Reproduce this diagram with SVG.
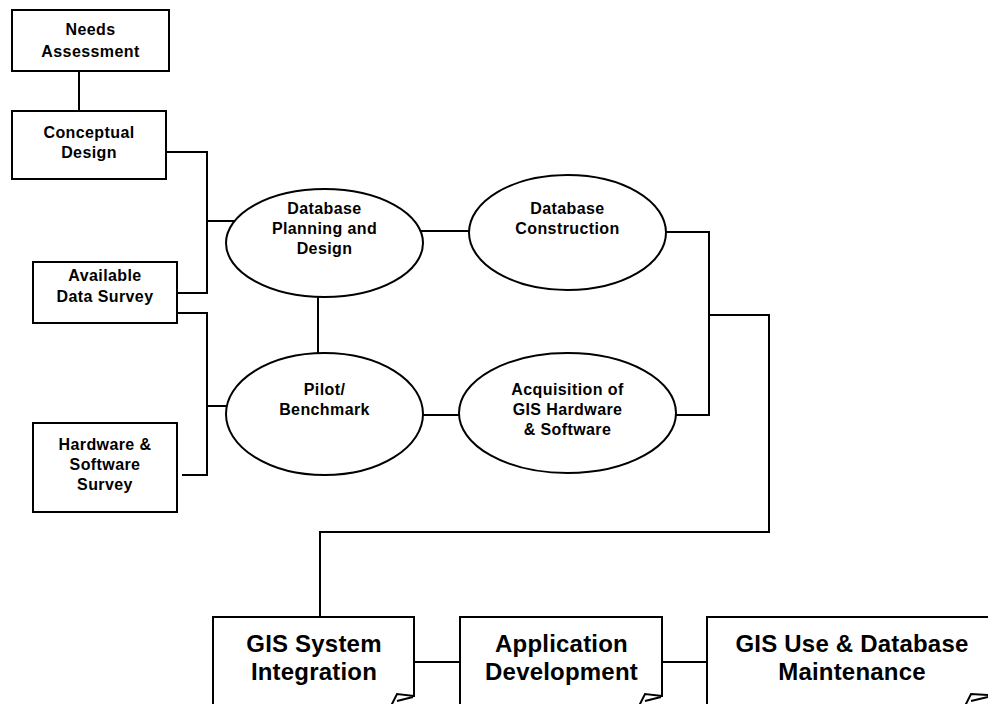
<svg xmlns="http://www.w3.org/2000/svg" width="988" height="704" viewBox="0 0 988 704">
<style>
  .ln { fill: none; stroke: #000; stroke-width: 2; }
  .bx { fill: #fff; stroke: #000; stroke-width: 2; }
  .t { font-family: "Liberation Sans", Arial, sans-serif; font-weight: bold; font-size: 16px; letter-spacing: 0.4px; text-anchor: middle; fill: #000; }
  .T { font-family: "Liberation Sans", Arial, sans-serif; font-weight: bold; font-size: 24px; letter-spacing: 0.2px; text-anchor: middle; fill: #000; }
</style>
<rect width="988" height="704" fill="#fff"/>
<g id="connectors" class="ln">
  <path d="M79,71 V111"/>
  <path d="M166,152 H207 V293 H177"/>
  <path d="M207,221 H240"/>
  <path d="M177,313 H207 V475 H182"/>
  <path d="M207,406 H240"/>
  <path d="M410,231 H480"/>
  <path d="M318,280 V360"/>
  <path d="M410,415 H470"/>
  <path d="M655,232 H709 V415 H665"/>
  <path d="M709,315 H769 V532 H320 V617"/>
  <path d="M415,662 H460"/>
  <path d="M663,662 H707"/>
</g>
<g id="needs-assessment">
  <rect class="bx" x="12" y="10" width="157" height="61"/>
  <text class="t" x="90.5" y="35">Needs</text>
  <text class="t" x="90.5" y="57">Assessment</text>
</g>
<g id="conceptual-design">
  <rect class="bx" x="12" y="111" width="154" height="68"/>
  <text class="t" x="89" y="138">Conceptual</text>
  <text class="t" x="89" y="158">Design</text>
</g>
<g id="available-data-survey">
  <rect class="bx" x="33" y="262" width="144" height="61"/>
  <text class="t" x="105" y="281">Available</text>
  <text class="t" x="105" y="302">Data Survey</text>
</g>
<g id="hardware-software-survey">
  <rect class="bx" x="33" y="423" width="144" height="89"/>
  <text class="t" x="105" y="450">Hardware &amp;</text>
  <text class="t" x="105" y="470">Software</text>
  <text class="t" x="105" y="490">Survey</text>
</g>
<g id="database-planning">
  <ellipse class="bx" cx="324.5" cy="243" rx="98.5" ry="54"/>
  <text class="t" x="324.5" y="214">Database</text>
  <text class="t" x="324.5" y="234">Planning and</text>
  <text class="t" x="324.5" y="254">Design</text>
</g>
<g id="pilot-benchmark">
  <ellipse class="bx" cx="324.5" cy="414" rx="98.5" ry="61"/>
  <text class="t" x="324.5" y="395">Pilot/</text>
  <text class="t" x="324.5" y="415">Benchmark</text>
</g>
<g id="database-construction">
  <ellipse class="bx" cx="567.5" cy="232.5" rx="98.5" ry="57.5"/>
  <text class="t" x="567.5" y="214">Database</text>
  <text class="t" x="567.5" y="234">Construction</text>
</g>
<g id="acquisition">
  <ellipse class="bx" cx="567.5" cy="413" rx="108.5" ry="60"/>
  <text class="t" x="567.5" y="395">Acquisition of</text>
  <text class="t" x="567.5" y="415">GIS Hardware</text>
  <text class="t" x="567.5" y="435">&amp; Software</text>
</g>
<g id="gis-system-integration">
  <path class="ln" d="M213,706 V617 H414 V696 L397,694 L391,706 M397,701 L413,697"/>
  <text class="T" x="314" y="652">GIS System</text>
  <text class="T" x="314" y="680">Integration</text>
</g>
<g id="application-development">
  <path class="ln" d="M460,706 V617 H662 V696 L645,694 L639,706 M645,701 L661,697"/>
  <text class="T" x="561.5" y="652">Application</text>
  <text class="T" x="561.5" y="680">Development</text>
</g>
<g id="gis-use-maintenance">
  <path class="ln" d="M707,706 V617 H992 M990,695 L971,694 L965,706 M971,701 L988,697"/>
  <text class="T" x="852" y="652">GIS Use &amp; Database</text>
  <text class="T" x="852" y="680">Maintenance</text>
</g>
</svg>
